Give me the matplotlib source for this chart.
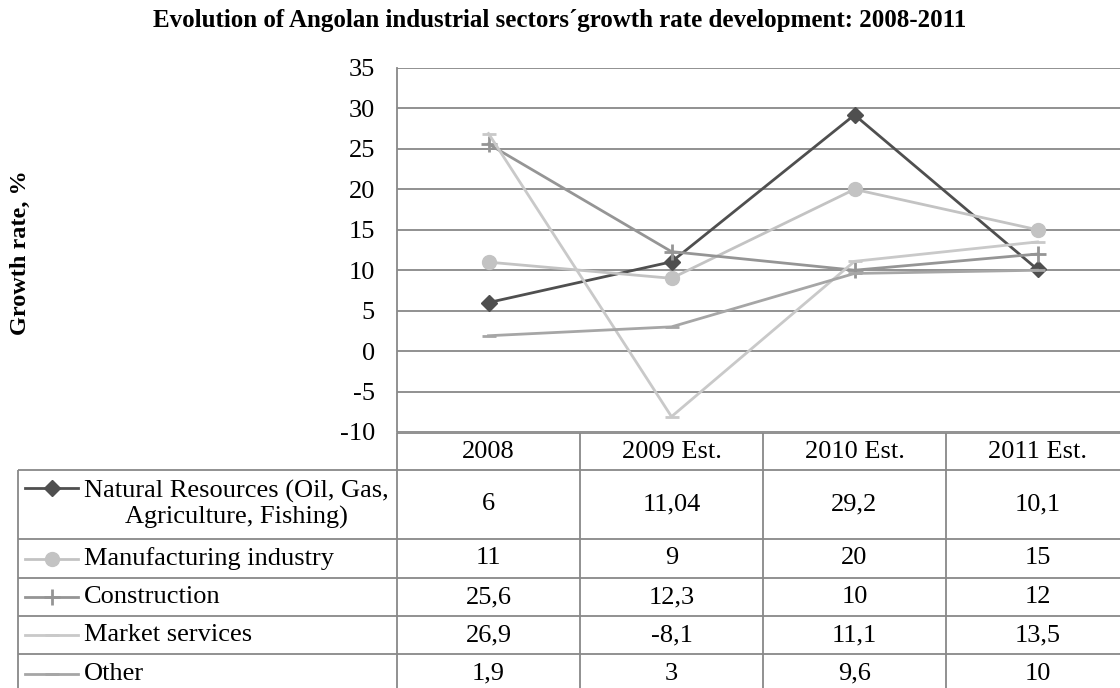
import matplotlib
matplotlib.use("Agg")
import matplotlib.pyplot as plt

# --- data ---------------------------------------------------------------
years = ["2008", "2009 Est.", "2010 Est.", "2011 Est."]
natural_resources = [6, 11.04, 29.2, 10.1]
manufacturing = [11, 9, 20, 15]
construction = [25.6, 12.3, 10, 12]
market_services = [26.9, -8.1, 11.1, 13.5]
other = [1.9, 3, 9.6, 10]

series_names = ["Natural Resources (Oil, Gas,\nAgriculture, Fishing)",
                "Manufacturing industry", "Construction",
                "Market services", "Other"]
series_values = [natural_resources, manufacturing, construction,
                 market_services, other]

# style per series: colour, marker, marker size
styles = [("#4f4f4f", "D", 8),
          ("#c3c3c3", "o", 10),
          ("#959595", "+", 11),
          ("#c9c9c9", "_", 10),
          ("#a6a6a6", "_", 10)]

plt.rcParams["font.family"] = ["Liberation Serif", "DejaVu Serif"]
plt.rcParams["axes.unicode_minus"] = False
GRID = "#888888"
FS = 19

W, H = 1120, 688
fig = plt.figure(figsize=(W / 100, H / 100), dpi=100)

# plot area in pixel terms
left, right, top, bottom = 397, 1129, 68, 432
col_w = (right - left) / len(years)
ax = fig.add_axes([left / W, 1 - bottom / H, (right - left) / W, (bottom - top) / H])

for vals, (c, m, ms) in zip(series_values, styles):
    ax.plot(range(len(years)), vals, color=c, lw=2.0, marker=m, ms=ms,
            mew=2.0 if m in "+_" else 1, mec=c, mfc=c, zorder=3)

ax.set_xlim(-0.5, len(years) - 0.5)
ax.set_ylim(-10, 35)
ax.set_yticks(range(-10, 36, 5))
ax.set_xticks([])
ax.tick_params(axis="y", length=0, pad=16, labelsize=FS)
ax.grid(axis="y", color=GRID, lw=1.3)
for s in ["top", "right", "bottom"]:
    ax.spines[s].set_visible(False)
ax.spines["left"].set_color(GRID)
ax.spines["left"].set_linewidth(1.3)
ax.set_axisbelow(True)

# --- data table ---------------------------------------------------------
tab = fig.add_axes([0, 0, 1, 1])
tab.set_xlim(0, W)
tab.set_ylim(H, 0)
tab.axis("off")

table_left = 18
row_edges = [433, 470, 539, 578, 616, 654, 693]

# horizontal rules
tab.hlines(row_edges[0], left, right, color=GRID, lw=1.3)
tab.hlines(row_edges[1:], table_left, right, color=GRID, lw=1.3)
# vertical rules
tab.vlines(table_left, row_edges[1], row_edges[-1], color=GRID, lw=1.3)
for i in range(len(years) + 1):
    tab.vlines(left + i * col_w, row_edges[0], row_edges[-1], color=GRID, lw=1.3)

# header
for i, yr in enumerate(years):
    tab.text(left + (i + 0.5) * col_w, (row_edges[0] + row_edges[1]) / 2, yr,
             ha="center", va="center", fontsize=FS)


def fmt(v):
    return f"{v:g}".replace(".", ",")


for r, (name, vals, (c, m, ms)) in enumerate(zip(series_names, series_values, styles)):
    y0, y1 = row_edges[r + 1], row_edges[r + 2]
    yc = (y0 + y1) / 2
    key_y = y0 + 18 if "\n" in name else yc
    tab.plot([25, 78], [key_y, key_y], color=c, lw=2.0)
    tab.plot([51.5], [key_y], color=c, marker=m, ms=ms,
             mew=2.0 if m in "+_" else 1, mec=c, mfc=c)
    tab.text(84, yc, name, ha="left", va="center", fontsize=FS,
             multialignment="center", linespacing=1.2)
    for i, v in enumerate(vals):
        tab.text(left + (i + 0.5) * col_w, yc, fmt(v),
                 ha="center", va="center", fontsize=FS)

fig.text(560 / W, 1 - 20 / H,
         "Evolution of Angolan industrial sectors\u00b4growth rate development: 2008-2011",
         ha="center", va="center", fontsize=18, fontweight="bold")
fig.text(20 / W, 1 - 253 / H, "Growth rate, %", rotation=90,
         ha="center", va="center", fontsize=17.5, fontweight="bold")

fig.savefig("out.png", dpi=100)
